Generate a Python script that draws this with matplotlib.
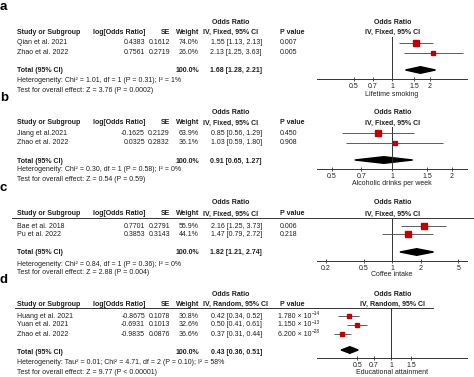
import matplotlib
matplotlib.use('Agg')
import matplotlib.pyplot as plt
from matplotlib.ticker import NullLocator
import numpy as np

plt.rcParams['font.family'] = ['Liberation Sans', 'DejaVu Sans']

# ---------------- data ----------------
a_studies = ["Qian et al. 2021", "Zhao et al. 2022"]
a_logor = ["0.4383", "0.7561"]
a_se = ["0.1612", "0.2719"]
a_weight = [74.0, 26.0]
a_or = [1.55, 2.13]
a_lo = [1.13, 1.25]
a_hi = [2.13, 3.63]
a_p = ["0.007", "0.005"]
a_total = [1.68, 1.28, 2.21]
a_het = "Heterogeneity: Chi\u00b2 = 1.01, df = 1 (P = 0.31); I\u00b2 = 1%"
a_test = "Test for overall effect: Z = 3.76 (P = 0.0002)"
a_ticks = [0.5, 0.7, 1, 1.5, 2]
a_ticklabels = ["0.5", "0.7", "1", "1.5", "2"]
a_xlabel = "Lifetime smoking"
a_method = "IV, Fixed, 95% CI"

b_studies = ["Jiang et al.2021", "Zhao et al. 2022"]
b_logor = ["-0.1625", "0.0325"]
b_se = ["0.2129", "0.2832"]
b_weight = [63.9, 36.1]
b_or = [0.85, 1.03]
b_lo = [0.56, 0.59]
b_hi = [1.29, 1.80]
b_p = ["0.450", "0.908"]
b_total = [0.91, 0.65, 1.27]
b_het = "Heterogeneity: Chi\u00b2 = 0.30, df = 1 (P = 0.58); I\u00b2 = 0%"
b_test = "Test for overall effect: Z = 0.54 (P = 0.59)"
b_ticks = [0.5, 0.7, 1, 1.5, 2]
b_ticklabels = ["0.5", "0.7", "1", "1.5", "2"]
b_xlabel = "Alcoholic drinks per week"
b_method = "IV, Fixed, 95% CI"

c_studies = ["Bae et al. 2018", "Pu et al. 2022"]
c_logor = ["0.7701", "0.3853"]
c_se = ["0.2791", "0.3143"]
c_weight = [55.9, 44.1]
c_or = [2.16, 1.47]
c_lo = [1.25, 0.79]
c_hi = [3.73, 2.72]
c_p = ["0.006", "0.218"]
c_total = [1.82, 1.21, 2.74]
c_het = "Heterogeneity: Chi\u00b2 = 0.84, df = 1 (P = 0.36); I\u00b2 = 0%"
c_test = "Test for overall effect: Z = 2.88 (P = 0.004)"
c_ticks = [0.2, 0.5, 1, 2, 5]
c_ticklabels = ["0.2", "0.5", "1", "2", "5"]
c_xlabel = "Coffee intake"
c_method = "IV, Fixed, 95% CI"

d_studies = ["Huang et al. 2021", "Yuan et al. 2021", "Zhao et al. 2022"]
d_logor = ["-0.8675", "-0.6931", "-0.9835"]
d_se = ["0.1078", "0.1013", "0.0876"]
d_weight = [30.8, 32.6, 36.6]
d_or = [0.42, 0.50, 0.37]
d_lo = [0.34, 0.41, 0.31]
d_hi = [0.52, 0.61, 0.44]
d_p_mantissa = ["1.780", "1.150", "6.200"]
d_p_exponent = ["\u221214", "\u221213", "\u221228"]
d_total = [0.43, 0.36, 0.51]
d_het = "Heterogeneity: Tau\u00b2 = 0.01; Chi\u00b2 = 4.71, df = 2 (P = 0.10); I\u00b2 = 58%"
d_test = "Test for overall effect: Z = 9.77 (P < 0.00001)"
d_ticks = [0.5, 0.7, 1, 1.5]
d_ticklabels = ["0.5", "0.7", "1", "1.5"]
d_xlabel = "Educational attainment"
d_method = "IV, Random, 95% CI"

d_p = [(m, e) for m, e in zip(d_p_mantissa, d_p_exponent)]

# ---------------- figure ----------------
W, H = 474, 377
fig = plt.figure(figsize=(W / 100, H / 100), dpi=100)
renderer = fig.canvas.get_renderer()
FS = 5.0
TXT = '#1e1e1e'
LINE = '#333333'
RED = '#C00000'


def T(x, y, s, ha='left', bold=False, fs=FS, color=TXT):
    return fig.text(x / W, 1 - y / H, s, ha=ha, va='center', fontsize=fs,
                    fontweight='bold' if bold else 'normal', color=color)


def T_sci(x, y, mant, expo):
    t = T(x, y, f"{mant} \u00d7 10")
    bb = t.get_window_extent(renderer)
    fig.text((bb.x1 + 0.6) / W, 1 - (y - 2.2) / H, expo, ha='left', va='center',
             fontsize=3.4, color=TXT)


def panel(letter, studies, logor, se, weight, orv, lo, hi, pv, total, het, test,
          ticks, ticklabels, xlabel, method, lay):
    T(0, lay['label'], letter, bold=True, fs=9.5, color='black')
    # headers
    T(231, lay['h1'], "Odds Ratio", ha='center', bold=True)
    T(393, lay['h1'], "Odds Ratio", ha='center', bold=True)
    T(17, lay['h2'], "Study or Subgroup", bold=True)
    T(145, lay['h2'], "log[Odds Ratio]", ha='right', bold=True)
    T(170, lay['h2'], "SE", ha='right', bold=True)
    T(199, lay['h2'], "Weight", ha='right', bold=True)
    T(203, lay['h2'], method, ha='left', bold=True)
    T(280, lay['h2'], "P value", bold=True)
    T(393, lay['h2'], method, ha='center', bold=True)
    if lay.get('hline'):
        x0, x1, yy = lay['hline']
        fig.add_artist(plt.Line2D([x0 / W, x1 / W], [1 - yy / H, 1 - yy / H],
                                  color=LINE, lw=0.7, transform=fig.transFigure))
    for i, yy in enumerate(lay['rows']):
        T(17, yy, studies[i])
        T(145, yy, logor[i], ha='right')
        T(170, yy, se[i], ha='right')
        T(199, yy, f"{weight[i]:.1f}%", ha='right')
        T(262, yy, f"{orv[i]:.2f} [{lo[i]:.2f}, {hi[i]:.2f}]", ha='right')
        if isinstance(pv[i], tuple):
            T_sci(278, yy, pv[i][0], pv[i][1])
        else:
            T(280, yy, pv[i])
    T(17, lay['total'], "Total (95% CI)", bold=True)
    T(199, lay['total'], "100.0%", ha='right', bold=True)
    T(262, lay['total'], f"{total[0]:.2f} [{total[1]:.2f}, {total[2]:.2f}]", ha='right', bold=True)
    T(17, lay['het'], het)
    T(17, lay['test'], test)

    ay, vt = lay['axis'], lay['vtop']
    ax = fig.add_axes([317 / W, 1 - ay / H, 150 / W, (ay - vt) / H])
    ax.set_xscale('log')
    ax.set_xlim(*lay['xlim'])
    ax.set_ylim(ay, vt)
    ax.patch.set_alpha(0)
    for s in ['top', 'right', 'left']:
        ax.spines[s].set_visible(False)
    ax.spines['bottom'].set_linewidth(0.7)
    ax.spines['bottom'].set_color(LINE)
    ax.set_yticks([])
    ax.set_xticks(ticks)
    ax.set_xticklabels(ticklabels)
    ax.xaxis.set_minor_locator(NullLocator())
    ax.tick_params(axis='x', direction='inout', length=3, width=0.6, labelsize=FS,
                   pad=1.5, colors=LINE, labelcolor=TXT)
    ax.axvline(1, color=LINE, lw=0.7)
    for i, yy in enumerate(lay['rows']):
        ax.hlines(yy, lo[i], hi[i], color='#444444', lw=0.6)
        ms = 0.8 * np.sqrt(weight[i]) * 0.72
        ax.plot(orv[i], yy, marker='s', ms=ms, color=RED, mec=RED, clip_on=False)
    dy = 3.3
    yd = lay['diam']
    ax.fill([total[1], total[0], total[2], total[0]], [yd, yd - dy, yd, yd + dy],
            color='black', clip_on=False)
    T(392, lay['xl'], xlabel, ha='center')


panel('a', a_studies, a_logor, a_se, a_weight, a_or, a_lo, a_hi, a_p, a_total, a_het, a_test,
      a_ticks, a_ticklabels, a_xlabel, a_method,
      dict(label=6.5, h1=22, h2=32, rows=[43, 53], total=71, het=80, test=90,
           vtop=37, axis=79, diam=70, xl=95, xlim=(0.254, 3.93)))
panel('b', b_studies, b_logor, b_se, b_weight, b_or, b_lo, b_hi, b_p, b_total, b_het, b_test,
      b_ticks, b_ticklabels, b_xlabel, b_method,
      dict(label=98, h1=113, h2=123, rows=[133, 143], total=161, het=170, test=179,
           vtop=127, axis=169, diam=160, xl=184, xlim=(0.42, 2.38)))
panel('c', c_studies, c_logor, c_se, c_weight, c_or, c_lo, c_hi, c_p, c_total, c_het, c_test,
      c_ticks, c_ticklabels, c_xlabel, c_method,
      dict(label=188, h1=203, h2=214, hline=(12, 474, 218), rows=[226, 234], total=253,
           het=264, test=273, vtop=218, axis=261, diam=252, xl=275, xlim=(0.16, 6.2)))
panel('d', d_studies, d_logor, d_se, d_weight, d_or, d_lo, d_hi, d_p, d_total, d_het, d_test,
      d_ticks, d_ticklabels, d_xlabel, d_method,
      dict(label=280, h1=294, h2=304, hline=(15, 433, 308), rows=[316, 325, 334], total=352,
           het=362, test=372, vtop=308, axis=358, diam=350, xl=372, xlim=(0.22, 4.7)))

fig.savefig('out.png', dpi=100)
